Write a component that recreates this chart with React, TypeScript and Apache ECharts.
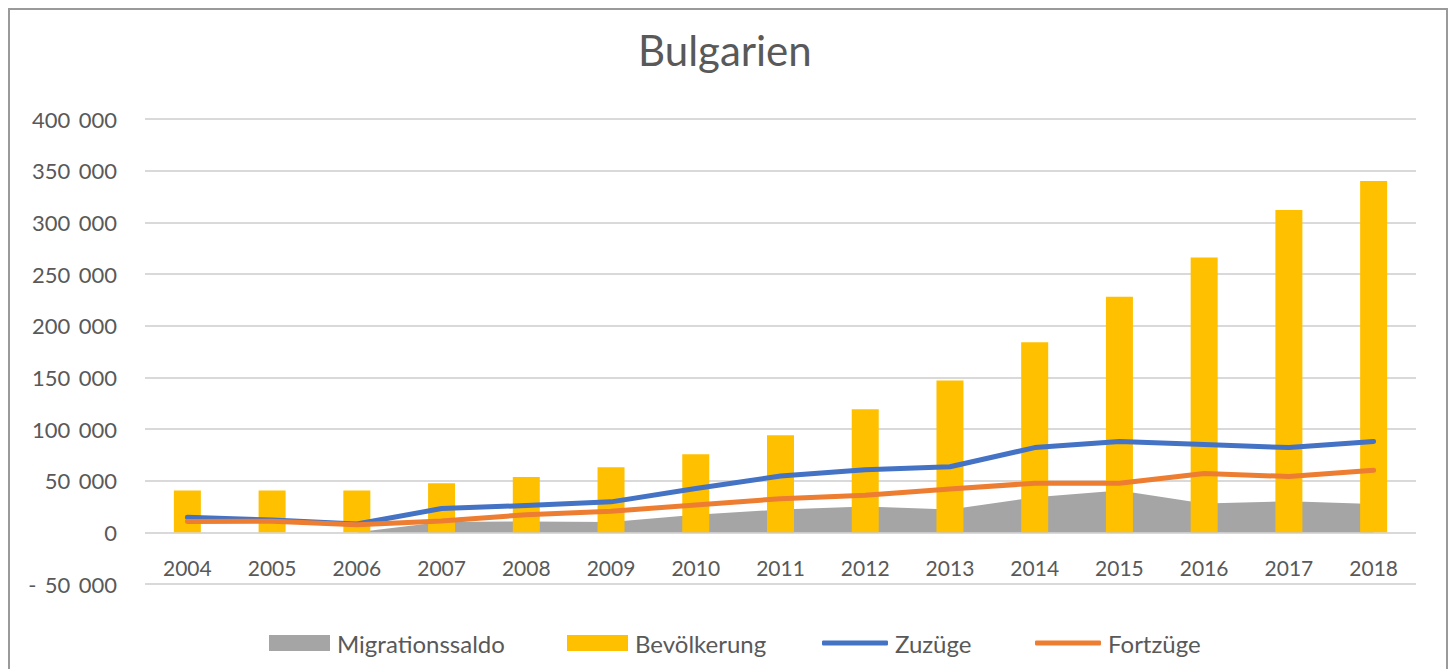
import React, { useEffect, useRef } from "react";
import * as echarts from "echarts";

const years = ["2004","2005","2006","2007","2008","2009","2010","2011","2012","2013","2014","2015","2016","2017","2018"];
const migrationssaldo = [0, 0, 0, 10000, 10500, 10000, 17000, 22000, 25000, 22000, 34000, 40500, 28000, 30000, 27500];
const bevoelkerung = [40500, 40500, 40500, 47500, 53500, 63000, 75500, 94000, 119000, 147000, 184000, 228000, 266000, 312000, 340000];
const zuzuege = [14500, 12000, 8000, 23000, 26000, 29500, 42500, 54500, 60500, 63500, 82000, 88000, 85000, 82000, 88000];
const fortzuege = [10600, 10800, 7400, 11000, 17000, 20500, 26500, 32500, 36000, 42000, 47500, 47500, 57000, 54000, 60000];
const seriesNames = ["Migrationssaldo", "Bevölkerung", "Zuzüge", "Fortzüge"];
const title = "Bulgarien";

const FONT = "Lato, 'Open Sans', sans-serif";
const TEXT = "#595959";
const COLORS = ["#A5A5A5", "#FFC000", "#4472C4", "#ED7D31"];

function fmt(v: number): string {
  if (v === 0) return "0";
  const neg = v < 0;
  const s = Math.abs(v).toString().replace(/\B(?=(\d{3})+(?!\d))/g, " \u2009");
  return neg ? "- \u2009" + s : s;
}

export default function App() {
  const ref = useRef<HTMLDivElement>(null);
  useEffect(() => {
    if (!ref.current) return;
    const chart = echarts.init(ref.current, null, { renderer: "svg", width: 1436, height: 659 });
    const legendLefts = [259, 557, 812, 1025];
    const legends = seriesNames.map((n, i) => ({
      left: legendLefts[i],
      top: 621,
      padding: 0,
      itemWidth: i < 2 ? 61 : 66,
      itemHeight: i < 2 ? 16 : 5,
      itemGap: 0,
      textStyle: { fontFamily: FONT, fontSize: 24, color: TEXT, padding: [0, 0, 0, 2] },
      data: [{ name: n, icon: i < 2 ? "rect" : "roundRect", itemStyle: { color: COLORS[i] } }],
    }));
    chart.setOption({
      animation: false,
      backgroundColor: "#ffffff",
      title: {
        text: title,
        left: 628,
        top: 19,
        padding: 0,
        textStyle: { fontFamily: FONT, fontSize: 42, fontWeight: "normal", color: TEXT },
      },
      grid: { left: 135, right: 30, top: 109, bottom: 85, containLabel: false },
      legend: legends,
      xAxis: {
        type: "category",
        data: years,
        boundaryGap: true,
        offset: -52,
        axisLine: { show: false, onZero: false },
        axisTick: { show: false },
        axisLabel: { fontFamily: FONT, fontSize: 21, color: TEXT, margin: 25 },
      },
      yAxis: {
        type: "value",
        min: -50000,
        max: 400000,
        interval: 50000,
        axisLine: { show: false },
        axisTick: { show: false },
        splitLine: { show: true, lineStyle: { color: "#D9D9D9", width: 2 } },
        axisLabel: { fontFamily: FONT, fontSize: 22, color: TEXT, margin: 28, formatter: (v: number) => fmt(v) },
      },
      series: [
        {
          name: seriesNames[0],
          type: "line",
          data: migrationssaldo,
          symbol: "none",
          lineStyle: { width: 0, color: COLORS[0] },
          itemStyle: { color: COLORS[0] },
          areaStyle: { color: COLORS[0], opacity: 1 },
          z: 1,
        },
        {
          name: seriesNames[1],
          type: "bar",
          data: bevoelkerung,
          barWidth: 27,
          itemStyle: { color: COLORS[1] },
          z: 2,
        },
        {
          name: seriesNames[2],
          type: "line",
          data: zuzuege,
          symbol: "none",
          lineStyle: { width: 5, color: COLORS[2], cap: "round", join: "round" },
          itemStyle: { color: COLORS[2] },
          z: 3,
        },
        {
          name: seriesNames[3],
          type: "line",
          data: fortzuege,
          symbol: "none",
          lineStyle: { width: 5, color: COLORS[3], cap: "round", join: "round" },
          itemStyle: { color: COLORS[3] },
          z: 3,
        },
      ],
    });
    return () => chart.dispose();
  }, []);
  return (
    <div
      style={{
        position: "absolute",
        left: 8,
        top: 8,
        width: 1440,
        height: 661,
        boxSizing: "border-box",
        borderTop: "2px solid #9a9a9a",
        borderLeft: "2px solid #9a9a9a",
        borderRight: "2px solid #9a9a9a",
        background: "#fff",
        overflow: "hidden",
      }}
    >
      <div ref={ref} style={{ width: 1436, height: 659 }} />
    </div>
  );
}
